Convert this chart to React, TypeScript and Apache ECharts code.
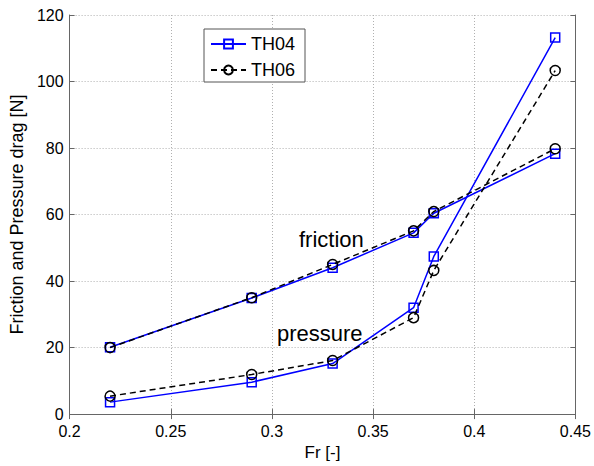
import React, { useEffect, useRef } from "react";
import * as echarts from "echarts";

const fr = [0.22, 0.29, 0.33, 0.37, 0.38, 0.44];
const th04Friction = [20.1, 34.9, 44.0, 54.5, 60.4, 78.3];
const th06Friction = [20.0, 35.0, 45.0, 55.1, 60.9, 79.8];
const th04Pressure = [3.6, 9.6, 15.2, 32.0, 47.4, 113.2];
const th06Pressure = [5.4, 11.9, 16.1, 29.0, 43.2, 103.3];
const legendNames = ["TH04", "TH06"];
const xTicks = { min: 0.2, max: 0.45, interval: 0.05 };
const yTicks = { min: 0, max: 120, interval: 20 };

const FONT = "'Liberation Sans', Arial, Helvetica, sans-serif";
const BLUE = "#0000ff";
const BLACK = "#000000";
const AXIS = "#666666";

const pair = (xs: number[], ys: number[]) => xs.map((x, i) => [x, ys[i]]);

export default function App() {
  const ref = useRef<HTMLDivElement>(null);
  useEffect(() => {
    document.body.style.margin = "0";
    const chart = echarts.init(ref.current!, undefined, { renderer: "svg" });
    const th04 = (data: number[][]) => ({
      name: "TH04",
      type: "line",
      data,
      symbol: "rect",
      symbolSize: 9,
      lineStyle: { color: BLUE, width: 1.5, type: "solid" },
      itemStyle: { color: "transparent", borderColor: BLUE, borderWidth: 1.5 },
      z: 2,
    });
    const th06 = (data: number[][]) => ({
      name: "TH06",
      type: "line",
      data,
      symbol: "circle",
      symbolSize: 10,
      lineStyle: { color: BLACK, width: 1.5, type: [6, 4] },
      itemStyle: { color: "transparent", borderColor: BLACK, borderWidth: 1.5 },
      z: 3,
    });
    const fmt = (v: number) => String(+v.toFixed(2));
    chart.setOption({
      animation: false,
      backgroundColor: "#ffffff",
      textStyle: { fontFamily: FONT },
      grid: { left: 67, right: 18, top: 15, bottom: 49, show: false },
      legend: {
        data: legendNames,
        orient: "vertical",
        left: 204,
        top: 29,
        padding: [6, 10, 3, 6],
        itemGap: 8,
        itemWidth: 35,
        itemHeight: 11,
        backgroundColor: "#ffffff",
        borderColor: "#555555",
        borderWidth: 1,
        borderRadius: 0,
        textStyle: { fontFamily: FONT, fontSize: 18, color: "#000", lineHeight: 18 },
      },
      xAxis: [
        {
          type: "value",
          ...xTicks,
          name: "Fr [-]",
          nameLocation: "middle",
          nameGap: 28,
          nameTextStyle: { fontFamily: FONT, fontSize: 17, color: "#000" },
          axisLine: { show: true, lineStyle: { color: AXIS, width: 1 } },
          axisTick: { show: true, inside: true, length: 5, lineStyle: { color: AXIS } },
          axisLabel: { fontFamily: FONT, fontSize: 16, color: "#000", margin: 9, formatter: fmt },
          splitLine: { show: true, lineStyle: { color: "#b0b0b0", type: [1, 2], width: 1 } },
        },
        {
          type: "value",
          position: "top",
          ...xTicks,
          axisLine: { show: true, lineStyle: { color: AXIS, width: 1 } },
          axisTick: { show: true, inside: true, length: 5, lineStyle: { color: AXIS } },
          axisLabel: { show: false },
          splitLine: { show: false },
        },
      ],
      yAxis: [
        {
          type: "value",
          ...yTicks,
          name: "Friction and Pressure drag [N]",
          nameLocation: "middle",
          nameGap: 38,
          nameTextStyle: { fontFamily: FONT, fontSize: 18, color: "#000" },
          axisLine: { show: true, lineStyle: { color: AXIS, width: 1 } },
          axisTick: { show: true, inside: true, length: 5, lineStyle: { color: AXIS } },
          axisLabel: { fontFamily: FONT, fontSize: 16, color: "#000", margin: 6 },
          splitLine: { show: true, lineStyle: { color: "#b0b0b0", type: [1, 2], width: 1 } },
        },
        {
          type: "value",
          position: "right",
          ...yTicks,
          axisLine: { show: true, lineStyle: { color: AXIS, width: 1 } },
          axisTick: { show: true, inside: true, length: 5, lineStyle: { color: AXIS } },
          axisLabel: { show: false },
          splitLine: { show: false },
        },
      ],
      series: [
        th04(pair(fr, th04Friction)),
        th04(pair(fr, th04Pressure)),
        th06(pair(fr, th06Friction)),
        th06(pair(fr, th06Pressure)),
      ],
      graphic: [
        {
          type: "text",
          left: 299,
          top: 228,
          style: { text: "friction", font: `22px ${FONT}`, fill: "#000" },
          z: 10,
        },
        {
          type: "text",
          left: 277,
          top: 322,
          style: { text: "pressure", font: `22px ${FONT}`, fill: "#000" },
          z: 10,
        },
      ],
    });
    return () => chart.dispose();
  }, []);
  return <div ref={ref} style={{ width: 594, height: 466 }} />;
}
